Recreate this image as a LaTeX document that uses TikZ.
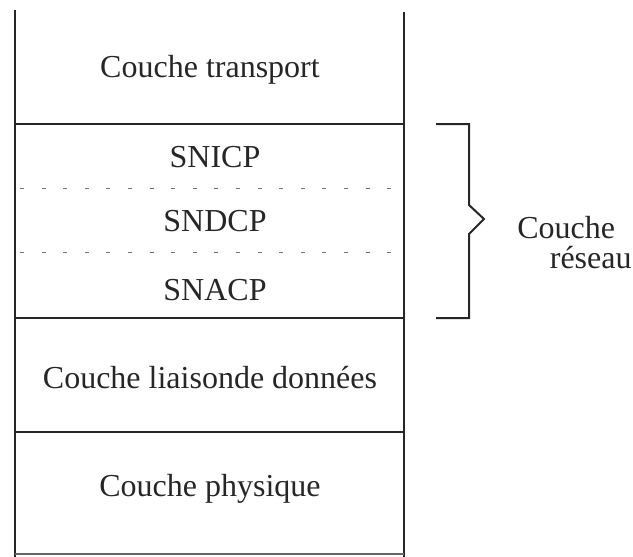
\documentclass[tikz,border=0pt]{standalone}
\usepackage{fontspec}
\setmainfont{Liberation Serif}
\begin{document}
\begin{tikzpicture}[x=0.5pt,y=-0.5pt,
  frame/.style={line width=1pt,draw=black!85},
  sep/.style={line width=0.5pt,draw=black!55,dash pattern=on 2pt off 8.8pt},
  lbl/.style={font=\fontsize{16}{19}\selectfont,text=black!85,inner sep=0pt},
  brc/.style={line width=1pt,draw=black!85}]
\useasboundingbox (0,0) rectangle (633,557);
% frame coordinates
\coordinate (tl) at (15,10);
\coordinate (tr) at (404,12);
\coordinate (bl) at (15,557);
\coordinate (br) at (404,557);
\coordinate (a1) at (15,124); \coordinate (a2) at (404,124);
\coordinate (b1) at (15,318); \coordinate (b2) at (404,318);
\coordinate (c1) at (15,432); \coordinate (c2) at (404,432);
\coordinate (d1) at (15,554); \coordinate (d2) at (404,554);
\coordinate (e1) at (20,188); \coordinate (e2) at (400,188);
\coordinate (f1) at (20,252); \coordinate (f2) at (400,252);
\draw[frame] (tl) -- (bl);
\draw[frame] (tr) -- (br);
\draw[frame] (a1) -- (a2);
\draw[frame] (b1) -- (b2);
\draw[frame] (c1) -- (c2);
\draw[frame,draw=black!60] (d1) -- (d2);
\draw[sep] (e1) -- (e2);
\draw[sep] (f1) -- (f2);
% labels
\node[lbl] (transport) at (210,70) {Couche transport};
\node[lbl] (snicp) at (215,157) {SNICP};
\node[lbl] (sndcp) at (215,221) {SNDCP};
\node[lbl] (snacp) at (215,290) {SNACP};
\node[lbl] (liaison) at (210,378) {Couche liaisonde données};
\node[lbl] (physique) at (210,489) {Couche physique};
% brace
\coordinate (p1) at (436,124);
\coordinate (p2) at (469,124);
\coordinate (p3) at (469,205);
\coordinate (tip) at (484,219);
\coordinate (p5) at (469,234);
\coordinate (p6) at (469,318);
\coordinate (p7) at (436,318);
\draw[brc,line join=miter] (p1) -- (p2) -- (p3) -- (tip) -- (p5) -- (p6) -- (p7);
\node[lbl,anchor=west] (couche) at (517,228) {Couche};
\node[lbl,anchor=east] (reseau) at (632,258) {réseau};
\end{tikzpicture}
\end{document}
